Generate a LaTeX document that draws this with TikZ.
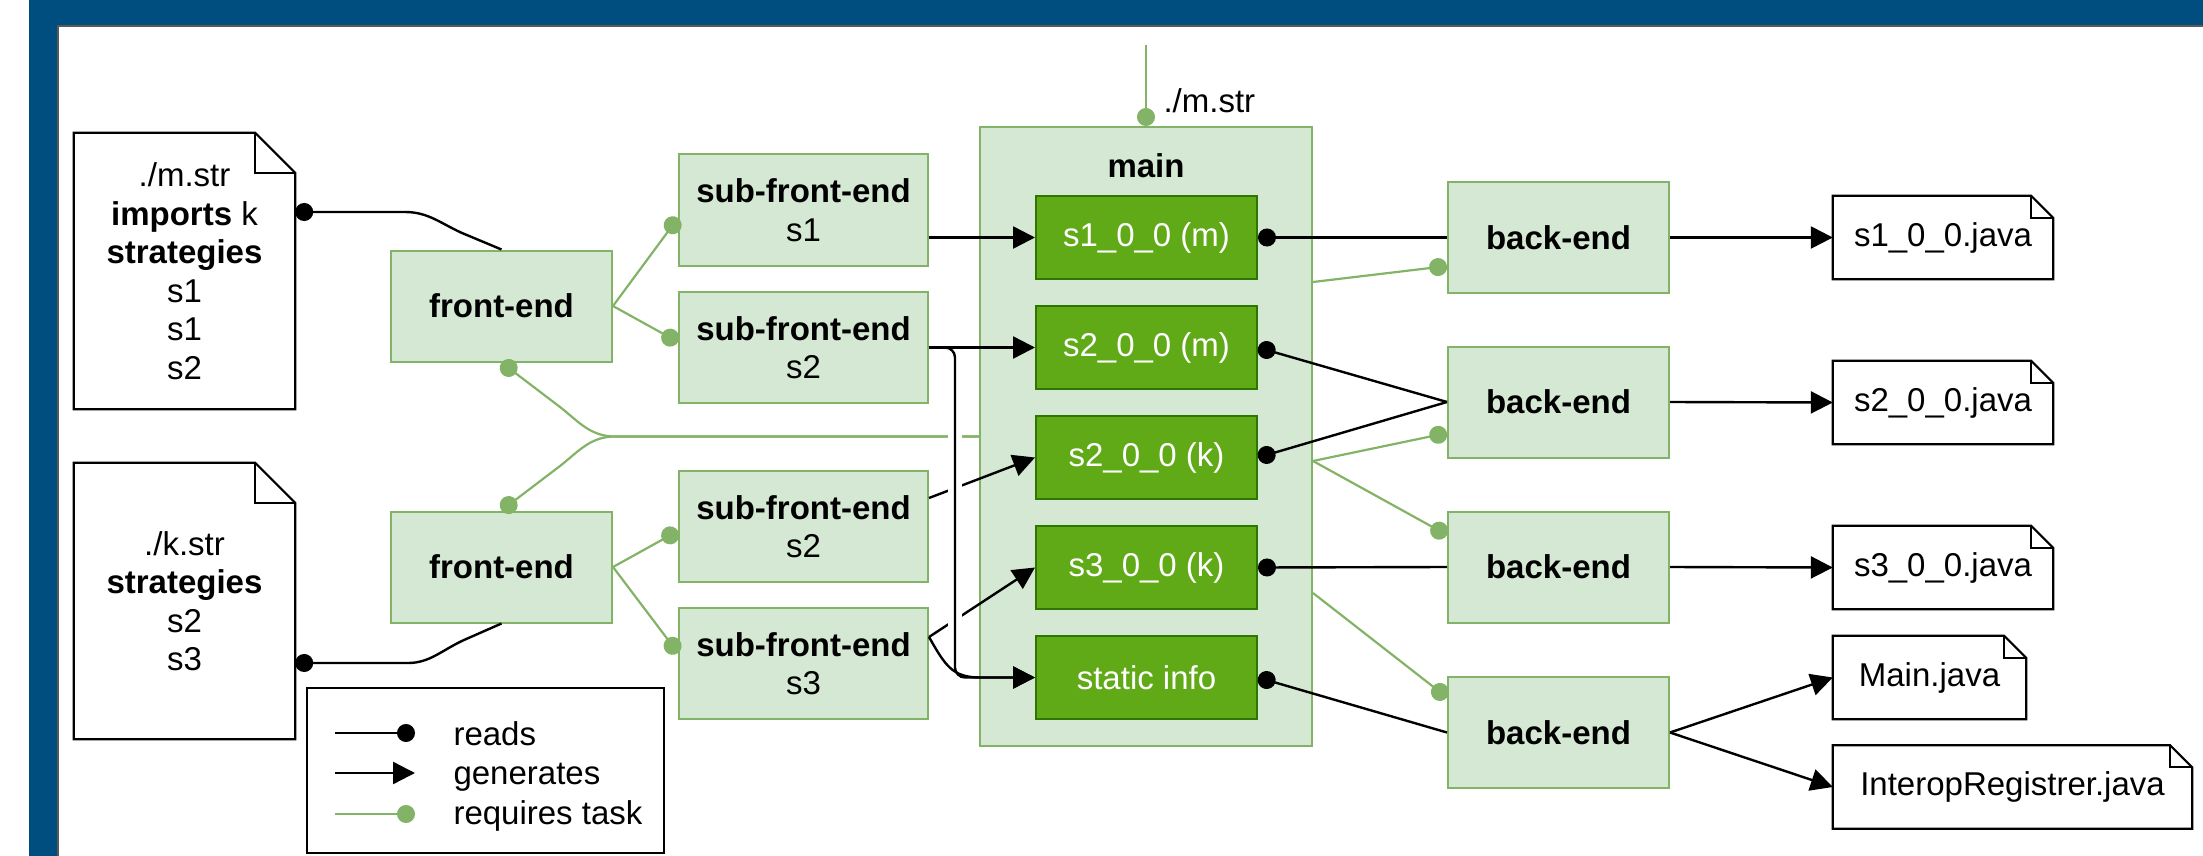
\documentclass[tikz,border=0pt]{standalone}
\usepackage{fontspec}
\setmainfont{Liberation Sans}
\usetikzlibrary{arrows.meta}

\definecolor{frameblue}{RGB}{0,77,128}
\definecolor{lightfill}{HTML}{D5E8D4}
\definecolor{lightline}{HTML}{82B366}
\definecolor{darkfill}{HTML}{60A917}
\definecolor{darkline}{HTML}{2D7600}

\tikzset{
  every node/.style={font=\fontsize{33}{38.5}\selectfont},
  task/.style={draw=lightline, fill=lightfill, line width=2pt,
    minimum width=221pt, minimum height=111pt, align=center, inner sep=0pt},
  subtask/.style={task, minimum width=249pt},
  unit/.style={draw=darkline, fill=darkfill, text=white, line width=2pt,
    minimum width=221pt, minimum height=83pt, inner sep=0pt},
  filebox/.style={minimum height=83pt, inner sep=0pt, align=center},
  docbox/.style={minimum width=221pt, minimum height=276pt, inner sep=0pt, align=center},
  docline/.style={draw=black, line width=2.2pt, line join=miter},
  reads/.style={draw=black, line width=2.4pt, -{Circle[length=18pt]}},
  gens/.style={draw=black, line width=2.4pt, -{Triangle[length=22pt,width=22pt]}},
  needs/.style={draw=lightline, line width=2.2pt, -{Circle[length=18pt]}},
}

% outline of a document with a folded top-right corner
\newcommand\docoutline[2]{%
  \draw[docline] (#1.south west) -- (#1.south east) -- ([yshift=-#2]#1.north east)
    -- ([xshift=-#2]#1.north east) -- (#1.north west) -- cycle;
  \draw[docline] ([xshift=-#2]#1.north east) |- ([yshift=-#2]#1.north east);}

\begin{document}
\begin{tikzpicture}[x=1pt,y=-1pt]
\useasboundingbox (0,0) rectangle (2203,856);

% slide frame
\fill[frameblue] (29,0) rectangle (2203,26);
\fill[frameblue] (29,0) rectangle (58,856);
\draw[line width=1.2pt, black!65] (58,856) -- (58,26) -- (2203,26);

% source files
\node[docbox] (d1) at (184.5,271) {./m.str\\\textbf{imports} k\\\textbf{strategies}\\s1\\s1\\s2};
\docoutline{d1}{40pt}
\node[docbox] (d2) at (184.5,601) {./k.str\\\textbf{strategies}\\s2\\s3};
\docoutline{d2}{40pt}

% front-ends
\node[task] (fe1) at (501.5,306) {\textbf{front-end}};
\node[task] (fe2) at (501.5,567) {\textbf{front-end}};

% sub-front-ends
\node[subtask] (sub1) at (803.5,210) {\textbf{sub-front-end}\\s1};
\node[subtask] (sub2) at (803.5,347.5) {\textbf{sub-front-end}\\s2};
\node[subtask] (sub3) at (803.5,526.5) {\textbf{sub-front-end}\\s2};
\node[subtask] (sub4) at (803.5,663.5) {\textbf{sub-front-end}\\s3};

% main task with its units
\node[task, minimum width=332pt, minimum height=619pt] (main) at (1146,436.5) {};
\node[anchor=base] (mainlbl) at (1146,178) {\textbf{main}};
\node[unit] (s1m) at (1146.5,237.5) {s1\_0\_0 (m)};
\node[unit] (s2m) at (1146.5,347.5) {s2\_0\_0 (m)};
\node[unit] (s2k) at (1146.5,457.5) {s2\_0\_0 (k)};
\node[unit] (s3k) at (1146.5,567.5) {s3\_0\_0 (k)};
\node[unit] (stat) at (1146.5,677.5) {static info};

% back-ends
\node[task] (be1) at (1558.5,237.5) {\textbf{back-end}};
\node[task] (be2) at (1558.5,402) {\textbf{back-end}};
\node[task] (be3) at (1558.5,567) {\textbf{back-end}};
\node[task] (be4) at (1558.5,732.5) {\textbf{back-end}};

% generated files
\node[filebox, minimum width=220pt] (f1) at (1943,237.5) {s1\_0\_0.java};
\docoutline{f1}{22pt}
\node[filebox, minimum width=220pt] (f2) at (1943,402.5) {s2\_0\_0.java};
\docoutline{f2}{22pt}
\node[filebox, minimum width=220pt] (f3) at (1943,567.5) {s3\_0\_0.java};
\docoutline{f3}{22pt}
\node[filebox, minimum width=193pt] (fmain) at (1929.5,677.5) {Main.java};
\docoutline{fmain}{22pt}
\node[filebox, minimum width=359pt] (finter) at (2012.5,787) {InteropRegistrer.java};
\docoutline{finter}{22pt}

% front-ends read the source files
\draw[reads] (fe1.north) -- (462,233) .. controls (440,223) and (428,212) .. (405,212)
  -- ([yshift=59pt]d1.east);
\draw[reads] (fe2.south) -- (464,640) .. controls (442,650) and (430,663) .. (408,663)
  -- ([yshift=-62pt]d2.east);

% front-ends require sub-front-ends
\draw[needs] (fe1.east) -- ([yshift=-8pt]sub1.west);
\draw[needs] (fe1.east) -- ([yshift=5.5pt]sub2.west);
\draw[needs] (fe2.east) -- ([yshift=-4.5pt]sub3.west);
\draw[needs] (fe2.east) -- ([yshift=10.5pt]sub4.west);

% main requires both front-ends
\draw[needs] (main.west) -- (615,436.5) .. controls (590,436.5) and (578,421) .. (560,407)
  -- (fe1.south);
\draw[needs] (main.west) -- (615,436.5) .. controls (590,436.5) and (578,452) .. (560,466)
  -- (fe2.north);

% main is required for ./m.str
\coordinate (mstr) at (1146,45);
\draw[needs] (mstr) -- (main.north);
\node[anchor=base west] (mstrlbl) at (1160,113) {./m.str};

% sub-front-ends generate units
\draw[gens] (s1m.west -| sub1.east) -- (s1m.west);
\draw[gens] (sub2.east) -- (s2m.west);
\draw[gens] ([yshift=28.5pt]sub3.east) -- (s2k.west);
\draw[gens] ([yshift=26.5pt]sub4.east) -- (s3k.west);
\draw[gens] ([yshift=26.5pt]sub4.east) .. controls (945,665) and (952,677.5) .. (980,677.5)
  -- (stat.west);

% line jump where the vertical connector crosses
\draw[white, line width=14pt] (955,395) -- (955,630);
\draw[gens, rounded corners=10pt] (sub2.east) -- (955,347.5) -- (955,677.5) -- (stat.west);

% back-ends read units
\draw[reads] (be1.west) -- (s1m.east);
\draw[reads] (be2.west) -- (s2m.east);
\draw[reads] (be2.west) -- (s2k.east);
\draw[reads] (be3.west) -- (s3k.east);
\draw[reads] (be4.west) -- (stat.east);

% back-ends require main
\draw[needs] ([yshift=154.5pt]main.east) -- ([yshift=-28.5pt]be1.west);
\draw[needs] ([yshift=-24.5pt]main.east) -- ([yshift=-31pt]be2.west);
\draw[needs] ([yshift=-24.5pt]main.east) -- ([yshift=32pt]be3.west);
\draw[needs] ([yshift=-156.5pt]main.east) -- ([yshift=35pt]be4.west);

% back-ends generate java files
\draw[gens] (be1.east) -- (f1.west);
\draw[gens] (be2.east) -- (f2.west);
\draw[gens] (be3.east) -- (f3.west);
\draw[gens] (be4.east) -- (fmain.west);
\draw[gens] (be4.east) -- (finter.west);

% legend
\node[draw=black, line width=2pt, minimum width=357pt, minimum height=165pt, inner sep=0pt]
  (legend) at (485.5,770.5) {};
\coordinate (la1) at (335,733); \coordinate (lb1) at (415,733);
\coordinate (la2) at (335,773); \coordinate (lb2) at (415,773);
\coordinate (la3) at (335,814); \coordinate (lb3) at (415,814);
\draw[reads] (la1) -- (lb1);
\draw[gens] (la2) -- (lb2);
\draw[needs] (la3) -- (lb3);
\node[anchor=base west] (lt1) at (450,745) {reads};
\node[anchor=base west] (lt2) at (450,784) {generates};
\node[anchor=base west] (lt3) at (450,824) {requires task};
\end{tikzpicture}
\end{document}
